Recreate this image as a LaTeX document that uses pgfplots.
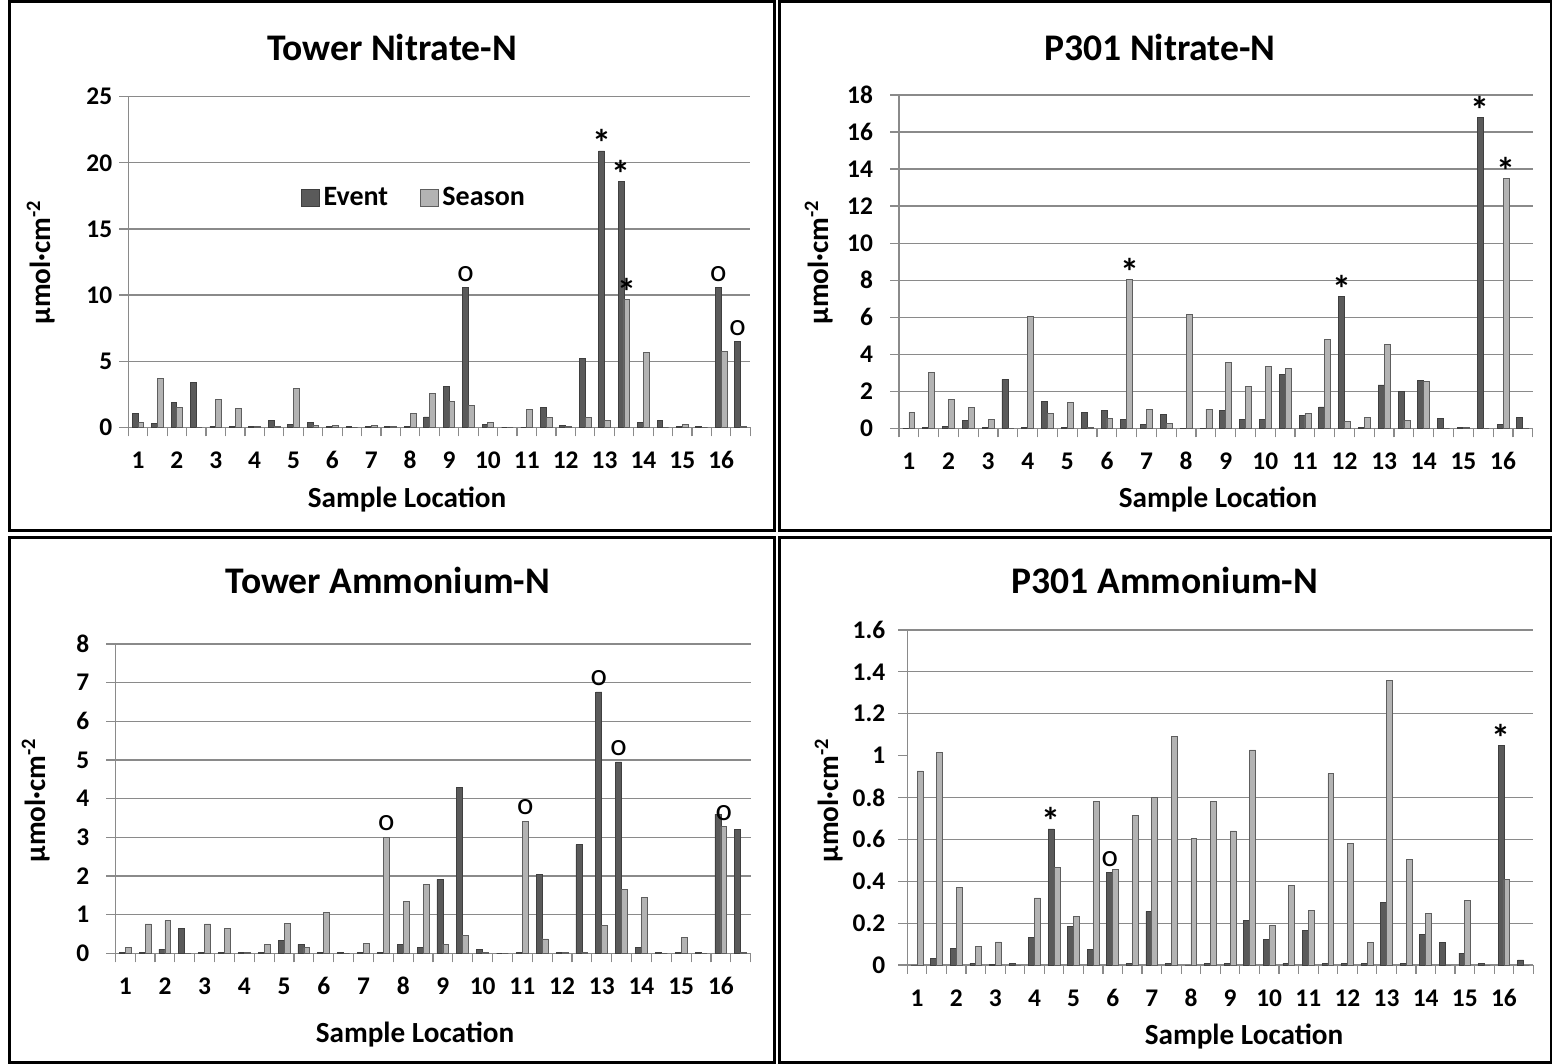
\documentclass[border=0pt]{standalone}
\usepackage{fontspec}
\setmainfont{Carlito}
\usepackage{pgfplots}
\pgfplotsset{compat=1.18}
\usepackage{pgfplotstable}

\definecolor{evfill}{HTML}{5A5A5A}
\definecolor{evdraw}{HTML}{3F3F3F}
\definecolor{sefill}{HTML}{B3B3B3}
\definecolor{sedraw}{HTML}{5E5E5E}
\definecolor{gridc}{HTML}{8A8A8A}

\pgfplotstableread{
x ev se
1 1.03 0.38
2 0.30 3.70
3 1.88 1.53
4 3.40 0
5 0.07 2.10
6 0.07 1.43
7 0.07 0.07
8 0.50 0.07
9 0.22 2.96
10 0.38 0.15
11 0.07 0.15
12 0.07 0
13 0.07 0.15
14 0.07 0.07
15 0.07 1.08
16 0.78 2.54
17 3.12 1.96
18 10.55 1.66
19 0.22 0.38
20 0 0
21 0 1.36
22 1.50 0.75
23 0.15 0.07
24 5.23 0.75
25 20.9 0.50
26 18.6 9.70
27 0.38 5.65
28 0.50 0
29 0.07 0.22
30 0.07 0
31 10.55 5.73
32 6.46 0.05
}\tn

\pgfplotstableread{
x ev se
1 0 0.86
2 0.04 3.02
3 0.10 1.56
4 0.40 1.13
5 0.04 0.49
6 2.64 0
7 0.04 6.02
8 1.46 0.81
9 0.04 1.40
10 0.86 0.04
11 0.97 0.54
12 0.49 8.04
13 0.22 1.03
14 0.76 0.27
15 0 6.14
16 0 1.03
17 0.94 3.56
18 0.50 2.28
19 0.50 3.35
20 2.93 3.24
21 0.67 0.81
22 1.15 4.80
23 7.12 0.38
24 0.05 0.59
25 2.34 4.53
26 2.00 0.43
27 2.59 2.54
28 0.54 0
29 0.05 0.05
30 16.8 0
31 0.22 13.5
32 0.59 0
}\pn

\pgfplotstableread{
x ev se
1 0.03 0.14
2 0.03 0.76
3 0.11 0.84
4 0.64 0
5 0.03 0.76
6 0.03 0.64
7 0.03 0.03
8 0.03 0.23
9 0.34 0.78
10 0.23 0.14
11 0.03 1.06
12 0.03 0
13 0.03 0.26
14 0.03 3.00
15 0.23 1.35
16 0.14 1.79
17 1.91 0.23
18 4.29 0.47
19 0.09 0.03
20 0 0
21 0.03 3.41
22 2.05 0.37
23 0.03 0.03
24 2.81 0.03
25 6.76 0.72
26 4.95 1.65
27 0.15 1.45
28 0.03 0
29 0.03 0.40
30 0.03 0
31 3.60 3.27
32 3.21 0.02
}\ta

\pgfplotstableread{
x ev se
1 0 0.927
2 0.032 1.013
3 0.079 0.37
4 0.008 0.087
5 0.003 0.11
6 0.008 0
7 0.13 0.32
8 0.65 0.465
9 0.186 0.232
10 0.075 0.78
11 0.44 0.455
12 0.008 0.713
13 0.256 0.80
14 0.008 1.09
15 0 0.603
16 0.008 0.78
17 0.008 0.64
18 0.213 1.027
19 0.122 0.189
20 0.008 0.379
21 0.165 0.26
22 0.008 0.913
23 0.008 0.58
24 0.008 0.108
25 0.298 1.36
26 0.008 0.503
27 0.146 0.246
28 0.108 0
29 0.057 0.308
30 0.008 0
31 1.05 0.408
32 0.024 0
}\pa

\pgfplotsset{
  panel/.style={
    scale only axis, anchor=south west,
    xmin=0.5, xmax=32.5, ymin=0,
    axis x line*=bottom, axis y line*=left,
    axis line style={draw=gridc, line width=0.7pt},
    ymajorgrids, grid style={draw=gridc, line width=0.6pt},
    xtick={0.5,1.5,...,32.5}, xticklabels={},
    extra x ticks={1,3,...,31},
    extra x tick labels={1,2,3,4,5,6,7,8,9,10,11,12,13,14,15,16},
    extra x tick style={major tick length=0pt, grid=none,
      xticklabel style={anchor=north, text height=8pt, text depth=0pt, yshift=-9.3pt}},
    tick align=outside, major tick length=4.5pt,
    tick style={draw=gridc, line width=0.6pt},
    tick label style={font=\bfseries\fontsize{12.7}{15}\selectfont},
    /pgf/number format/assume math mode=true,
    ybar, bar width=0.3,
    clip=false,
  },
  ev/.style={fill=evfill, draw=evdraw, line width=0.4pt, bar shift=-0.15},
  se/.style={fill=sefill, draw=sedraw, line width=0.4pt, bar shift=0.15},
}
\tikzset{
  anno/.style={font=\fontsize{15.5}{17}\selectfont, anchor=south, inner sep=3pt},
  star/.style={font=\bfseries\fontsize{19}{21}\selectfont, anchor=base, inner sep=0pt, yshift=-3pt},
}

\newcommand{\ttl}{\bfseries\fontsize{18.8}{22}\selectfont}
\newcommand{\lbl}{\bfseries\fontsize{14.6}{17}\selectfont}
\newcommand{\ylab}{µmol·cm\textsuperscript{-2}}

\begin{document}
\begin{tikzpicture}
\path[use as bounding box, fill=white] (0,0) rectangle (776pt,532pt);

% Panel 1: Tower Nitrate-N
\begin{axis}[panel, at={(64.15pt,318.35pt)}, width=311pt, height=165.3pt,
  ymax=25, ytick={0,5,...,25},
  legend style={draw=none, fill=none, at={(0.461,0.694)}, anchor=center,
    font=\bfseries\fontsize{14}{16}\selectfont, legend columns=2,
    /tikz/every even column/.append style={column sep=14pt}},
  legend image code/.code={\draw[#1] (0pt,-4.4pt) rectangle (8.8pt,4.4pt);}]
\addplot[ev] table[x=x,y=ev]{\tn};
\addplot[se] table[x=x,y=se]{\tn};
\legend{Event,Season}
\node[star] at (axis cs:24.85,20.9) {*};
\node[star] at (axis cs:25.85,18.6) {*};
\node[star] at (axis cs:26.15,9.7) {*};
\node[anno] at (axis cs:17.85,10.55) {o};
\node[anno] at (axis cs:30.85,10.55) {o};
\node[anno] at (axis cs:31.85,6.46) {o};
\end{axis}

% Panel 2: P301 Nitrate-N
\begin{axis}[panel, at={(449.5pt,317.85pt)}, width=316.85pt, height=166.65pt,
  ymax=18, ytick={0,2,...,18}, yticklabel style={xshift=-5pt}]
\addplot[ev] table[x=x,y=ev]{\pn};
\addplot[se] table[x=x,y=se]{\pn};
\node[star] at (axis cs:12.15,8.04) {*};
\node[star] at (axis cs:22.85,7.12) {*};
\node[star] at (axis cs:29.85,16.8) {*};
\node[star] at (axis cs:31.15,13.5) {*};
\end{axis}

% Panel 3: Tower Ammonium-N
\begin{axis}[panel, at={(57.65pt,55.35pt)}, width=317.7pt, height=154.65pt,
  ymax=8, ytick={0,1,...,8}, yticklabel style={xshift=-5pt}]
\addplot[ev] table[x=x,y=ev]{\ta};
\addplot[se] table[x=x,y=se]{\ta};
\node[anno] at (axis cs:14.15,3.00) {o};
\node[anno] at (axis cs:21.15,3.41) {o};
\node[anno] at (axis cs:24.85,6.76) {o};
\node[anno] at (axis cs:25.85,4.95) {o};
\node[anno] at (axis cs:31.15,3.27) {o};
\end{axis}

% Panel 4: P301 Ammonium-N
\begin{axis}[panel, at={(453.65pt,49.5pt)}, width=313pt, height=167.5pt,
  ymax=1.6, ytick={0,0.2,0.4,0.6,0.8,1.2,1.4,1.6},
  extra y ticks={1}, extra y tick style={grid=none}, yticklabel style={xshift=-3pt}]
\addplot[ev] table[x=x,y=ev]{\pa};
\addplot[se] table[x=x,y=se]{\pa};
\node[star] at (axis cs:7.85,0.65) {*};
\node[anno] at (axis cs:10.85,0.44) {o};
\node[star] at (axis cs:30.85,1.05) {*};
\end{axis}

% titles
\node[font=\ttl] at (196pt,508.5pt) {Tower Nitrate-N};
\node[font=\ttl] at (580pt,508.5pt) {P301 Nitrate-N};
\node[font=\ttl] at (194pt,242pt) {Tower Ammonium-N};
\node[font=\ttl] at (582.5pt,242pt) {P301 Ammonium-N};
% x labels
\node[font=\lbl] at (203.5pt,282pt) {Sample Location};
\node[font=\lbl] at (609pt,282pt) {Sample Location};
\node[font=\lbl] at (207.5pt,14.5pt) {Sample Location};
\node[font=\lbl] at (622pt,13.5pt) {Sample Location};
% y labels
\node[font=\lbl, rotate=90] at (20.5pt,401pt) {\ylab};
\node[font=\lbl, rotate=90] at (409.5pt,401pt) {\ylab};
\node[font=\lbl, rotate=90] at (18pt,132pt) {\ylab};
\node[font=\lbl, rotate=90] at (414.5pt,132pt) {\ylab};
% frames
\draw[black, line width=1.5pt] (4.5pt,266.5pt) rectangle (387pt,531pt);
\draw[black, line width=1.5pt] (389.5pt,266.5pt) rectangle (775.5pt,531pt);
\draw[black, line width=1.5pt] (4.5pt,0.5pt) rectangle (387pt,263pt);
\draw[black, line width=1.5pt] (389.5pt,0.5pt) rectangle (775.5pt,263pt);
\end{tikzpicture}
\end{document}
